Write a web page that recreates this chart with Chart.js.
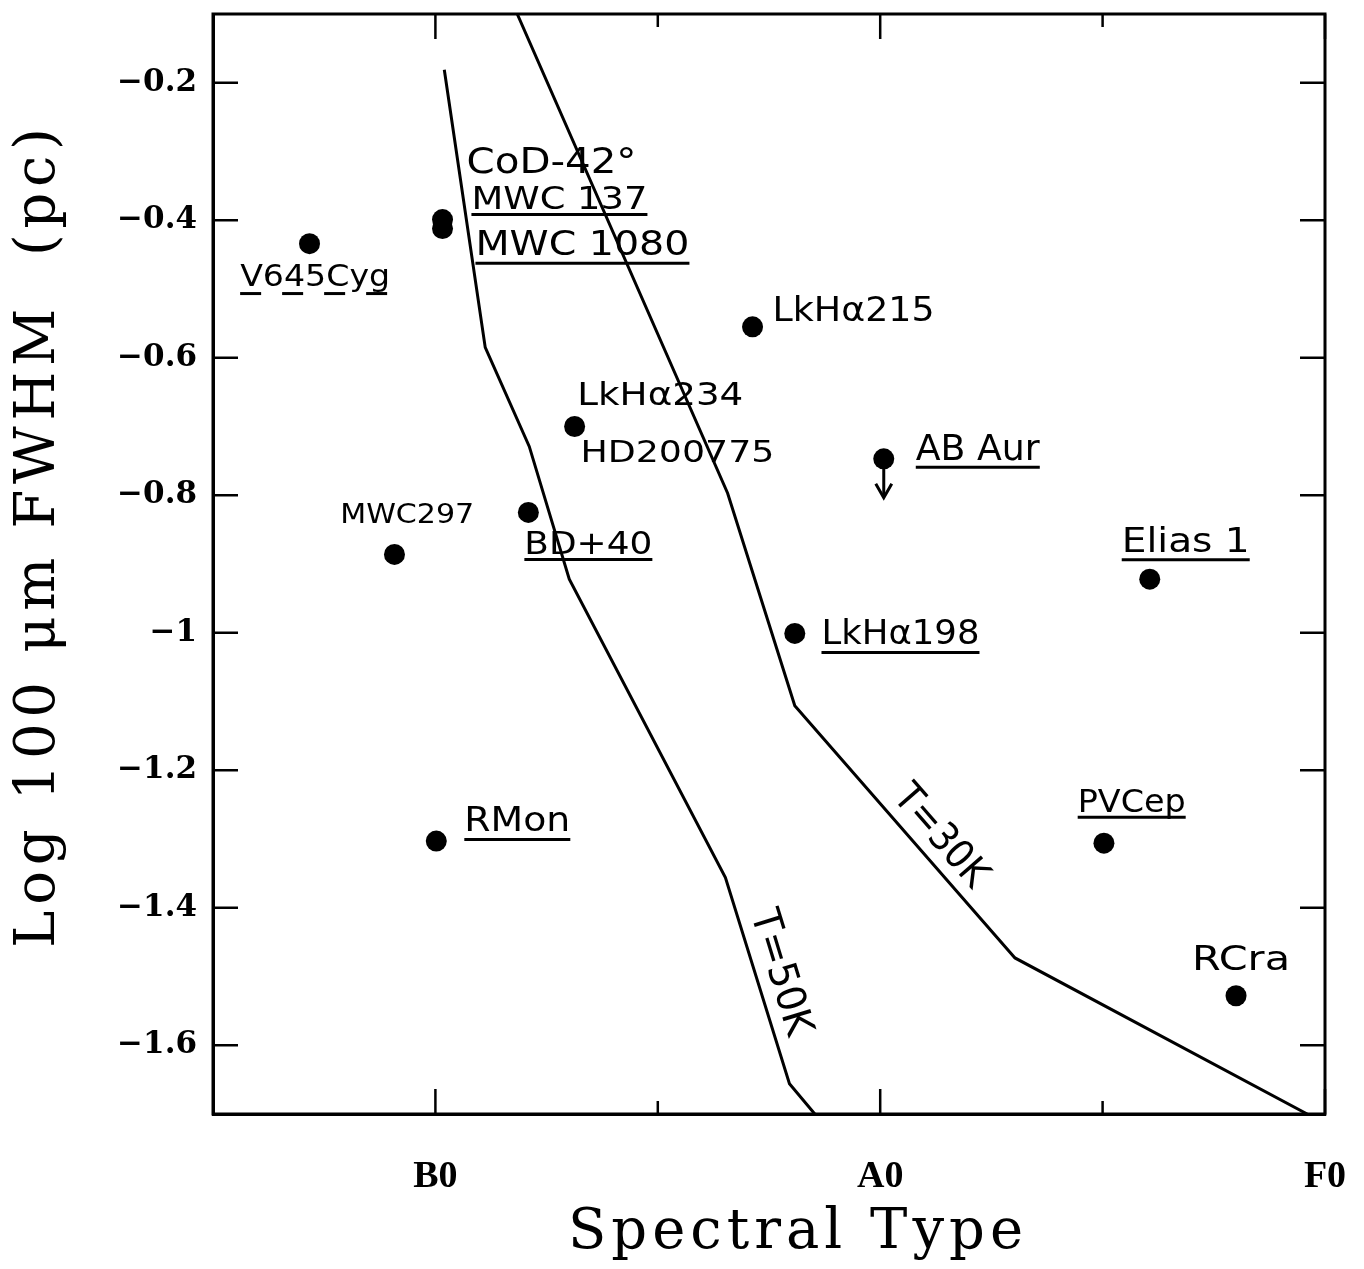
<!DOCTYPE html>
<html>
<head>
<meta charset="utf-8">
<script src="https://cdn.jsdelivr.net/npm/chart.js@4.4.1/dist/chart.umd.min.js"></script>
<style>
  html, body { margin: 0; padding: 0; background: #ffffff; }
  #wrap { width: 1364px; height: 1269px; position: relative; }
</style>
</head>
<body>
<div id="wrap"><canvas id="c" width="1364" height="1269"></canvas></div>
<script>
// ---------------- data ----------------
// spectral type axis: B0 = 0, A0 = 1, F0 = 2
const starNames      = ['V645 Cyg', 'CoD-42° / MWC 137', 'MWC 1080', 'LkHα 215', 'LkHα 234 / HD 200775', 'AB Aur', 'BD+40', 'MWC 297', 'Elias 1', 'LkHα 198', 'R Mon', 'PV Cep', 'R CrA'];
const starSpType     = [-0.283, 0.016, 0.016, 0.713, 0.313, 1.008, 0.209, -0.092, 1.606, 0.808, 0.002, 1.503, 1.800];
const starLogFwhm    = [-0.434, -0.399, -0.412, -0.555, -0.700, -0.747, -0.825, -0.886, -0.922, -1.001, -1.303, -1.306, -1.528];
const starUpperLimit = [false, false, false, false, false, true, false, false, false, false, false, false, false];

const t50SpType  = [0.020, 0.112, 0.211, 0.301, 0.652, 0.796, 0.853];
const t50LogFwhm = [-0.181, -0.585, -0.729, -0.922, -1.356, -1.656, -1.700];

const t30SpType  = [0.184, 0.657, 0.808, 1.303, 1.960];
const t30LogFwhm = [-0.100, -0.797, -1.106, -1.473, -1.700];

const xTickValues = [0, 0.5, 1, 1.5, 2];
const xTickLabels = ['B0', '', 'A0', '', 'F0'];
const yTickValues = [-1.6, -1.4, -1.2, -1, -0.8, -0.6, -0.4, -0.2];

const xTitle = 'Spectral Type';
const yTitle = 'Log 100 μm FWHM  (pc)';

// hand-written annotations (anchor in data units)
const annotations = [
  { text: 'V645Cyg',  x: -0.439, y: -0.495, size: 30, w: 150, ul: 8, dash: true },
  { text: 'CoD-42°',  x: 0.070,  y: -0.331, size: 36, w: 170 },
  { text: 'MWC 137',  x: 0.081,  y: -0.383, size: 32, w: 176, ul: 6 },
  { text: 'MWC 1080', x: 0.090,  y: -0.451, size: 34, w: 214, ul: 8 },
  { text: 'LkHα215',  x: 0.758,  y: -0.546, size: 34, w: 162 },
  { text: 'LkHα234',  x: 0.319,  y: -0.669, size: 32, w: 166 },
  { text: 'HD200775', x: 0.326,  y: -0.752, size: 30, w: 194 },
  { text: 'AB Aur',   x: 1.080,  y: -0.749, size: 36, w: 124, ul: 7 },
  { text: 'MWC297',   x: -0.214, y: -0.840, size: 26, w: 134 },
  { text: 'BD+40',    x: 0.200,  y: -0.886, size: 32, w: 128, ul: 5 },
  { text: 'Elias 1',  x: 1.543,  y: -0.882, size: 34, w: 128, ul: 8 },
  { text: 'LkHα198',  x: 0.868,  y: -1.017, size: 34, w: 158, ul: 8 },
  { text: 'RMon',     x: 0.065,  y: -1.289, size: 34, w: 106, ul: 8 },
  { text: 'PVCep',    x: 1.444,  y: -1.261, size: 32, w: 108, ul: 5 },
  { text: 'RCra',     x: 1.701,  y: -1.491, size: 34, w: 98 },
  { text: 'T=30K',    x: 1.134,  y: -1.297, size: 40, w: 122, rot: 49 },
  { text: 'T=50K',    x: 0.774,  y: -1.495, size: 40, w: 130, rot: 73 }
];

// ---------------- plugins ----------------
const titleTweak = {
  id: 'titleTweak',
  afterLayout(chart) {
    [['x', 29, 0, 5], ['y', 0, -29, 5.7]].forEach(([id, dx, dy, ls]) => {
      const s = chart.scales[id];
      if (!s || s._tweaked) return;
      s._tweaked = true;
      const orig = s.drawTitle.bind(s);
      s.drawTitle = function () {
        const c = this.ctx;
        c.save();
        c.translate(dx, dy);
        c.letterSpacing = ls + 'px';
        orig();
        c.restore();
      };
    });
  }
};

const framePlugin = {
  id: 'frame',
  afterDatasetsDraw(chart) {
    const { ctx, chartArea: a, scales } = chart;
    const xs = scales.x, ys = scales.y;
    const seg = (x1, y1, x2, y2) => { ctx.beginPath(); ctx.moveTo(x1, y1); ctx.lineTo(x2, y2); ctx.stroke(); };
    ctx.save();
    ctx.strokeStyle = '#000';
    ctx.fillStyle = '#000';
    ctx.lineCap = 'butt';
    // frame
    ctx.lineWidth = 3;
    ctx.strokeRect(a.left, a.top, a.right - a.left, a.bottom - a.top);
    // inward ticks
    ctx.lineWidth = 2.5;
    xTickValues.forEach((v, i) => {
      const px = xs.getPixelForValue(v);
      const len = xTickLabels[i] ? 25 : 13;
      seg(px, a.bottom, px, a.bottom - len);
      seg(px, a.top, px, a.top + len);
    });
    yTickValues.forEach(v => {
      const py = ys.getPixelForValue(v);
      seg(a.left, py, a.left + 25, py);
      seg(a.right, py, a.right - 25, py);
    });
    // upper-limit arrows
    ctx.lineWidth = 3;
    starSpType.forEach((v, i) => {
      if (!starUpperLimit[i]) return;
      const px = xs.getPixelForValue(v), py = ys.getPixelForValue(starLogFwhm[i]);
      seg(px, py, px, py + 38);
      ctx.beginPath();
      ctx.moveTo(px - 8, py + 25); ctx.lineTo(px, py + 39); ctx.lineTo(px + 8, py + 25);
      ctx.stroke();
    });
    // annotations
    annotations.forEach(L => {
      const px = xs.getPixelForValue(L.x), py = ys.getPixelForValue(L.y);
      ctx.font = L.size + 'px "DejaVu Sans"';
      const w = ctx.measureText(L.text).width;
      ctx.save();
      ctx.translate(px, py);
      if (L.rot) {
        ctx.rotate(L.rot * Math.PI / 180);
        ctx.textAlign = 'center';
        ctx.textBaseline = 'middle';
      } else {
        ctx.textAlign = 'left';
        ctx.textBaseline = 'alphabetic';
      }
      ctx.scale(L.w / w, 1);
      ctx.fillText(L.text, 0, 0);
      ctx.restore();
      if (L.ul) {
        ctx.save();
        ctx.lineWidth = 3;
        if (L.dash) ctx.setLineDash([21, 21]);
        seg(px, py + L.ul, px + L.w, py + L.ul);
        ctx.restore();
      }
    });
    ctx.restore();
  }
};

// ---------------- chart ----------------
const fmtY = v => String(+Number(v).toFixed(1)).replace('-', '\u2212');

new Chart(document.getElementById('c').getContext('2d'), {
  type: 'scatter',
  data: {
    datasets: [
      {
        label: 'Sources',
        data: starSpType.map((v, i) => ({ x: v, y: starLogFwhm[i] })),
        pointRadius: 10.5,
        pointBackgroundColor: '#000',
        pointBorderColor: '#000',
        pointBorderWidth: 0,
        showLine: false
      },
      {
        label: 'T=50K',
        data: t50SpType.map((v, i) => ({ x: v, y: t50LogFwhm[i] })),
        showLine: true,
        borderColor: '#000',
        borderWidth: 3,
        pointRadius: 0,
        fill: false,
        tension: 0
      },
      {
        label: 'T=30K',
        data: t30SpType.map((v, i) => ({ x: v, y: t30LogFwhm[i] })),
        showLine: true,
        borderColor: '#000',
        borderWidth: 3,
        pointRadius: 0,
        fill: false,
        tension: 0
      }
    ]
  },
  options: {
    responsive: false,
    animation: false,
    devicePixelRatio: 1,
    layout: { autoPadding: false, padding: { left: 0, right: 39, top: 14, bottom: 0 } },
    plugins: { legend: { display: false }, tooltip: { enabled: false } },
    scales: {
      x: {
        type: 'linear',
        min: -0.5,
        max: 2,
        afterBuildTicks: s => { s.ticks = xTickValues.map(v => ({ value: v })); },
        afterFit: s => { s.height = 155; s.paddingLeft = 0; s.paddingRight = 0; },
        grid: { display: false, drawTicks: false },
        border: { display: true, color: '#000', width: 3 },
        ticks: {
          autoSkip: false,
          maxRotation: 0,
          padding: 40,
          color: '#000',
          font: { family: '"Liberation Serif"', size: 38, weight: 'bold' },
          callback: v => { const i = xTickValues.indexOf(v); return i >= 0 ? xTickLabels[i] : ''; }
        },
        title: {
          display: true,
          text: xTitle,
          color: '#000',
          font: { family: '"DejaVu Serif"', size: 56 },
          padding: { top: 0, bottom: 2 }
        }
      },
      y: {
        type: 'linear',
        min: -1.7,
        max: -0.1,
        afterBuildTicks: s => { s.ticks = yTickValues.map(v => ({ value: v })); },
        afterFit: s => { s.width = 213; s.paddingTop = 0; s.paddingBottom = 0; },
        grid: { display: false, drawTicks: false },
        border: { display: true, color: '#000', width: 3 },
        ticks: {
          padding: 16,
          color: '#000',
          font: { family: '"DejaVu Serif"', size: 31, weight: 'bold' },
          callback: v => fmtY(v)
        },
        title: {
          display: true,
          text: yTitle,
          color: '#000',
          font: { family: '"DejaVu Serif"', size: 56 },
          padding: { top: 6, bottom: 0 }
        }
      }
    }
  },
  plugins: [titleTweak, framePlugin]
});
</script>
</body>
</html>
